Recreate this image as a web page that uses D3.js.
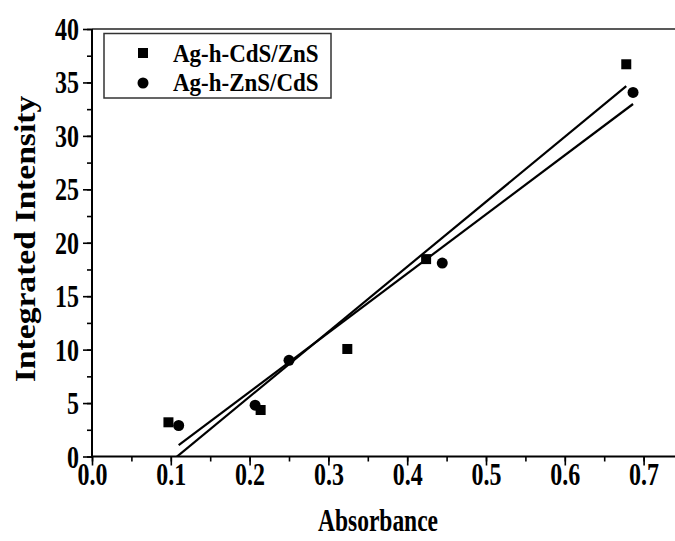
<!DOCTYPE html>
<html>
<head>
<meta charset="utf-8">
<script src="https://cdn.jsdelivr.net/npm/d3@7"></script>
<style>
  html, body { margin: 0; padding: 0; background: #fff; }
  svg { display: block; }
  text { font-family: "Liberation Serif", "Times New Roman", serif; font-weight: bold; fill: #000; }
</style>
</head>
<body>
<svg id="chart" width="675" height="541"></svg>
<script>
// ---- data ----
const seriesNames = ["Ag-h-CdS/ZnS", "Ag-h-ZnS/CdS"];
const cdsZnsX = [0.097, 0.214, 0.324, 0.424, 0.678];
const cdsZnsY = [3.2, 4.35, 10.06, 18.47, 36.7];
const znsCdsX = [0.110, 0.207, 0.250, 0.4445, 0.6866];
const znsCdsY = [2.9, 4.8, 9.0, 18.1, 34.07];
const xTicks = [0.0, 0.1, 0.2, 0.3, 0.4, 0.5, 0.6, 0.7];
const yTicks = [0, 5, 10, 15, 20, 25, 30, 35, 40];
const xTitle = "Absorbance";
const yTitle = "Integrated Intensity";

const svg = d3.select("#chart");
const L = 92, T = 29, B = 456.5;
const x = d3.scaleLinear().domain([0, 0.75]).range([L, L + 0.75 * 788]);
const y = d3.scaleLinear().domain([0, 40]).range([B, T]);
const SY = 1.3;

// clip
svg.append("defs").append("clipPath").attr("id", "clip")
  .append("rect").attr("x", L).attr("y", T).attr("width", x(0.75) - L).attr("height", B - T);

// top border
svg.append("line").attr("x1", L).attr("x2", x(0.75)).attr("y1", T).attr("y2", T)
  .attr("stroke", "#222").attr("stroke-width", 1.5);

// x axis
svg.append("g").attr("transform", `translate(0,${B})`)
  .call(d3.axisBottom(x).tickValues(d3.range(0, 0.751, 0.05)).tickSize(5).tickFormat(""))
  .call(g => { g.select(".domain").remove(); g.selectAll(".tick line").attr("stroke-width", 1.6); });
const xMaj = svg.append("g").attr("transform", `translate(0,${B})`)
  .call(d3.axisBottom(x).tickValues(xTicks).tickSize(9).tickFormat(d3.format(".1f")));
xMaj.select(".domain").remove();
xMaj.selectAll(".tick line").attr("stroke-width", 1.6);
xMaj.selectAll(".tick text")
  .attr("font-size", 24).attr("font-family", "Liberation Serif").attr("font-weight", "bold")
  .attr("y", 0).attr("dy", 0)
  .attr("transform", `translate(0,28.5) scale(1,${SY})`);
svg.append("line").attr("x1", L - 1).attr("x2", x(0.75)).attr("y1", B).attr("y2", B)
  .attr("stroke", "#000").attr("stroke-width", 2);

// y axis
svg.append("g").attr("transform", `translate(${L},0)`)
  .call(d3.axisLeft(y).tickValues(d3.range(0, 40.1, 2.5)).tickSize(5).tickFormat(""))
  .call(g => { g.select(".domain").remove(); g.selectAll(".tick line").attr("stroke-width", 1.6); });
const yMaj = svg.append("g").attr("transform", `translate(${L},0)`)
  .call(d3.axisLeft(y).tickValues(yTicks).tickSize(9).tickPadding(4).tickFormat(d3.format("d")));
yMaj.select(".domain").remove();
yMaj.selectAll(".tick line").attr("stroke-width", 1.6);
yMaj.selectAll(".tick text")
  .attr("font-size", 24).attr("font-family", "Liberation Serif").attr("font-weight", "bold")
  .attr("y", 0).attr("dy", 0)
  .attr("transform", `translate(0,10.5) scale(1,${SY})`);
svg.append("line").attr("x1", L).attr("x2", L).attr("y1", T).attr("y2", B + 1)
  .attr("stroke", "#000").attr("stroke-width", 2);

// regression lines
function fit(xs, ys) {
  const mx = d3.mean(xs), my = d3.mean(ys);
  let sxy = 0, sxx = 0;
  xs.forEach((v, i) => { sxy += (v - mx) * (ys[i] - my); sxx += (v - mx) * (v - mx); });
  const b = sxy / sxx, a = my - b * mx;
  const x0 = d3.min(xs), x1 = d3.max(xs);
  return [[x0, a + b * x0], [x1, a + b * x1]];
}
const lineGen = d3.line().x(d => x(d[0])).y(d => y(d[1]));
const plot = svg.append("g").attr("clip-path", "url(#clip)");
[fit(cdsZnsX, cdsZnsY), fit(znsCdsX, znsCdsY)].forEach(seg => {
  plot.append("path").attr("d", lineGen(seg)).attr("fill", "none")
    .attr("stroke", "#000").attr("stroke-width", 2.2);
});

// points
svg.append("g").selectAll("rect").data(cdsZnsX.map((v, i) => [v, cdsZnsY[i]])).join("rect")
  .attr("x", d => x(d[0]) - 5).attr("y", d => y(d[1]) - 5)
  .attr("width", 10).attr("height", 10).attr("fill", "#000");
svg.append("g").selectAll("circle").data(znsCdsX.map((v, i) => [v, znsCdsY[i]])).join("circle")
  .attr("cx", d => x(d[0])).attr("cy", d => y(d[1])).attr("r", 5.5).attr("fill", "#000");

// legend
const lg = svg.append("g");
lg.append("rect").attr("x", 104).attr("y", 33.5).attr("width", 227).attr("height", 64.5)
  .attr("fill", "#fff").attr("stroke", "#333").attr("stroke-width", 1.5);
lg.append("rect").attr("x", 138).attr("y", 48).attr("width", 10).attr("height", 10).attr("fill", "#000");
lg.append("circle").attr("cx", 143).attr("cy", 83).attr("r", 5.5).attr("fill", "#000");
lg.append("text").attr("transform", "translate(173,61.5) scale(1,1.08)").attr("font-size", 23).text(seriesNames[0]);
lg.append("text").attr("transform", "translate(173,91) scale(1,1.08)").attr("font-size", 23).text(seriesNames[1]);

// titles
svg.append("text").attr("transform", `translate(378,531) scale(1,1.35)`).attr("text-anchor", "middle")
  .attr("font-size", 23.5).text(xTitle);
svg.append("text").attr("transform", `translate(35,239) rotate(-90) scale(1.12,1)`)
  .attr("text-anchor", "middle").attr("font-size", 30).text(yTitle);
</script>
</body>
</html>
